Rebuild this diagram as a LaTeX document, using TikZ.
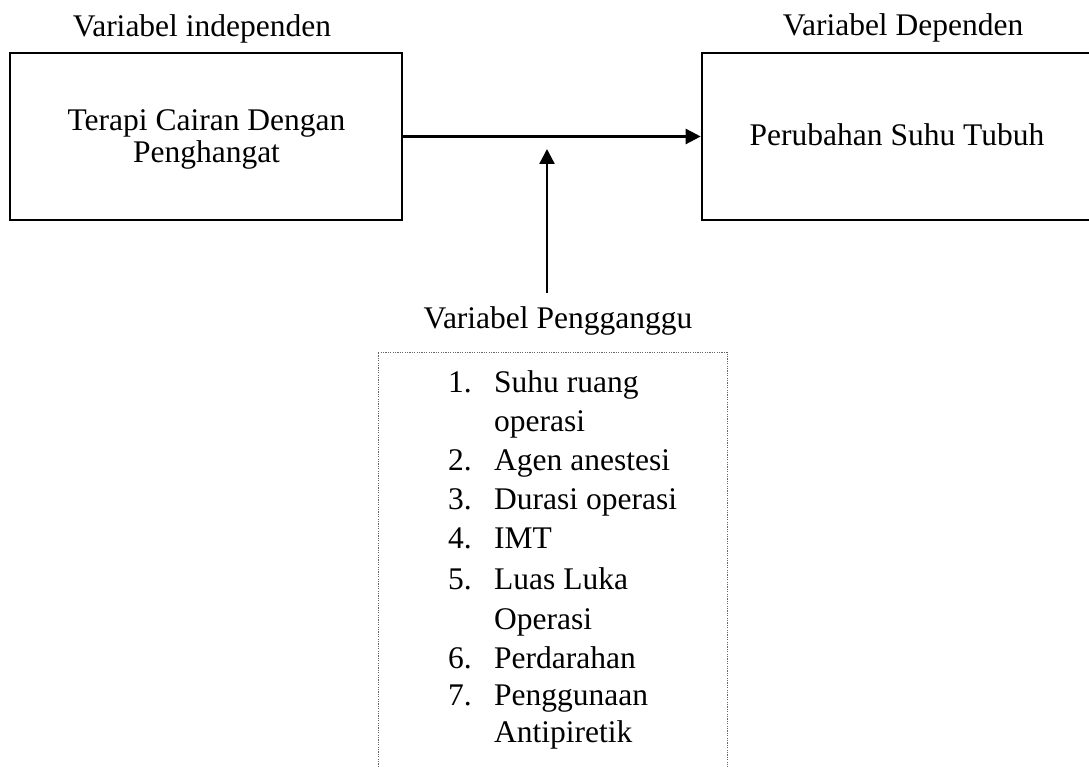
\documentclass[tikz,border=0pt]{standalone}
\usepackage{fontspec}
\setmainfont{Liberation Serif}
\usetikzlibrary{arrows.meta}
\begin{document}
\begin{tikzpicture}[x=1pt,y=-1pt,
  box/.style={draw,line width=2.6pt,rectangle,inner sep=0pt},
  lbl/.style={anchor=base,inner sep=0pt,font=\fontsize{31.5}{39}\selectfont},
  item/.style={anchor=base west,inner sep=0pt,font=\fontsize{31.5}{39}\selectfont},
  conn/.style={line width=2.4pt,-{Triangle[length=15pt,width=15pt]}},
  dotbox/.style={draw=black!60,line width=0.9pt,dash pattern=on 1.2pt off 1.2pt}]
\useasboundingbox (0,0) rectangle (1089,767);
% boxes
\node[box,minimum width=392pt,minimum height=167pt] (lbox) at (206,136.5) {};
\node[box,minimum width=393pt,minimum height=167pt] (rbox) at (898.5,136.5) {};
% box texts
\node[lbl] (lt1) at (206.5,131) {Terapi Cairan Dengan};
\node[lbl] (lt2) at (206.5,163) {Penghangat};
\node[lbl] (rt) at (897,146) {Perubahan Suhu Tubuh};
% headings
\node[lbl] (hind) at (202,37) {Variabel independen};
\node[lbl] (hdep) at (903,36) {Variabel Dependen};
\node[lbl] (hpeng) at (558,328) {Variabel Pengganggu};
% connectors
\draw[conn] (lbox.east) -- (rbox.west);
\coordinate (vstart) at (547,293);
\coordinate (vend) at (547,149);
\draw[conn] (vstart) -- (vend);
% dotted box (open at the bottom, cut by the page)
\draw[dotbox] (378,767) -- (378,352) -- (727,352) -- (727,767);
% list
\node[item] (n1) at (448,392) {1.};
\node[item] (t1) at (494,392) {Suhu ruang};
\node[item] (t1b) at (494,431) {operasi};
\node[item] (n2) at (448,470) {2.};
\node[item] (t2) at (494,470) {Agen anestesi};
\node[item] (n3) at (448,509) {3.};
\node[item] (t3) at (494,509) {Durasi operasi};
\node[item] (n4) at (448,548) {4.};
\node[item] (t4) at (494,548) {IMT};
\node[item] (n5) at (448,589) {5.};
\node[item] (t5) at (494,589) {Luas Luka};
\node[item] (t5b) at (494,629) {Operasi};
\node[item] (n6) at (448,668) {6.};
\node[item] (t6) at (494,668) {Perdarahan};
\node[item] (n7) at (448,705) {7.};
\node[item] (t7) at (494,705) {Penggunaan};
\node[item] (t7b) at (494,742) {Antipiretik};
\end{tikzpicture}
\end{document}
